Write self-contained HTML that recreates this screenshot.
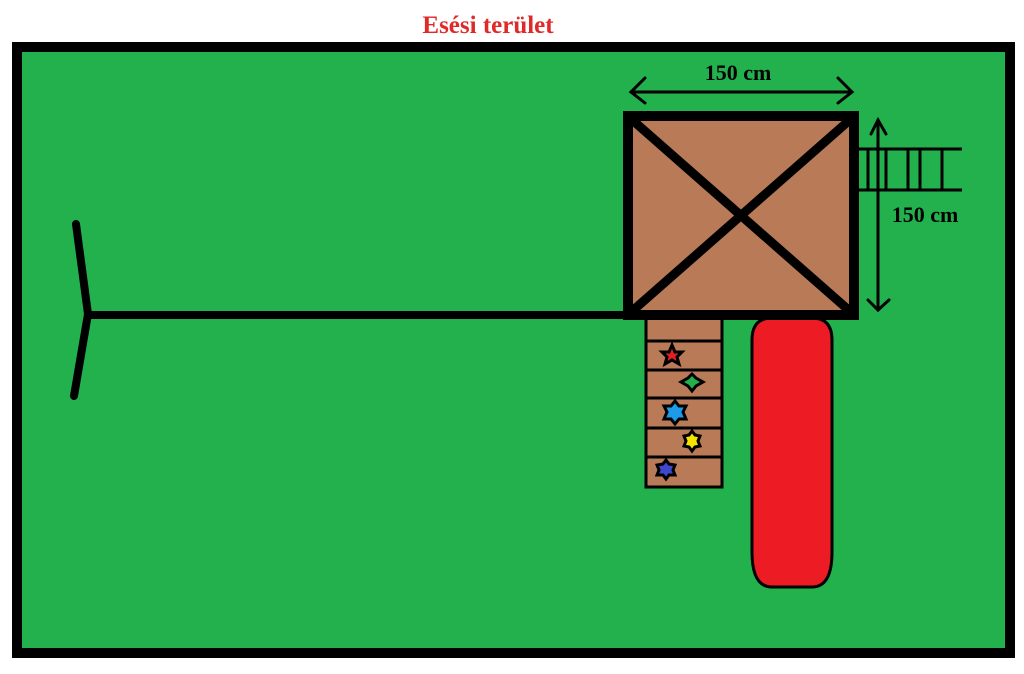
<!DOCTYPE html>
<html><head><style>body{margin:0;background:#fff}svg{display:block}</style></head>
<body>
<svg width="1024" height="674" viewBox="0 0 1024 674" xmlns="http://www.w3.org/2000/svg">
<rect width="1024" height="674" fill="#fff"/>
<text x="488" y="33" text-anchor="middle" font-family="Liberation Serif, serif" font-weight="bold" font-size="25" fill="#e02a2a">Esési terület</text>
<rect x="17" y="47" width="993" height="606" fill="#22b14c" stroke="#000" stroke-width="10"/>
<polyline points="76,224 88,314 74,396" fill="none" stroke="#000" stroke-width="8" stroke-linecap="round" stroke-linejoin="round"/>
<line x1="88" y1="315" x2="630" y2="315" stroke="#000" stroke-width="8"/>
<rect x="646" y="318" width="76" height="169" fill="#b97a57" stroke="#000" stroke-width="3"/>
<g stroke="#000" stroke-width="3">
<line x1="646" y1="341" x2="722" y2="341"/>
<line x1="646" y1="370" x2="722" y2="370"/>
<line x1="646" y1="398" x2="722" y2="398"/>
<line x1="646" y1="428" x2="722" y2="428"/>
<line x1="646" y1="457" x2="722" y2="457"/>
</g>
<g stroke="#000" stroke-width="3">
<polygon points="672,345 675,352 682,352 677,357 679,364 672,360 665,364 667,357 662,352 669,352" fill="#e02020"/>
<polygon points="692,374 696,378 703,382 696,386 692,391 688,386 681,382 688,378" fill="#22b14c"/>
<polygon points="675,401 679,406 686,406 683,412 686,419 679,419 675,424 671,419 664,419 667,412 664,406 671,406" fill="#1e9be8"/>
<polygon points="692,431 695,435 700,436 698,441 700,446 695,447 692,451 689,447 684,446 686,441 684,436 689,435" fill="#f5e400"/>
<polygon points="666,460 669,464 675,465 673,470 675,475 669,475 666,479 663,475 657,475 659,470 657,465 663,464" fill="#3f48cc"/>
</g>
<path d="M752,340 Q752,318 772,318 H812 Q832,318 832,340 V552 Q832,587 812,587 H772 Q752,587 752,552 Z" fill="#ed1c24" stroke="#000" stroke-width="3"/>
<rect x="628" y="116" width="226" height="199" fill="#b97a57" stroke="#000" stroke-width="10"/>
<line x1="630" y1="118" x2="852" y2="313" stroke="#000" stroke-width="9"/>
<line x1="852" y1="118" x2="630" y2="313" stroke="#000" stroke-width="9"/>
<g stroke="#000" stroke-width="3">
<line x1="857" y1="149" x2="962" y2="149"/>
<line x1="857" y1="190" x2="962" y2="190"/>
<line x1="868" y1="149" x2="868" y2="190"/>
<line x1="878" y1="149" x2="878" y2="190"/>
<line x1="886" y1="149" x2="886" y2="190"/>
<line x1="908" y1="149" x2="908" y2="190"/>
<line x1="920" y1="149" x2="920" y2="190"/>
<line x1="942" y1="149" x2="942" y2="190"/>
</g>
<g stroke="#000" stroke-width="3" fill="none" stroke-linecap="round">
<line x1="631" y1="92" x2="852" y2="92"/>
<polyline points="645,78 631,92 645,103"/>
<polyline points="838,78 852,92 838,103"/>
<line x1="878" y1="120" x2="878" y2="310"/>
<polyline points="871,134 878,120 886,134"/>
<polyline points="868,300 878,310 889,300"/>
</g>
<text x="738" y="80" text-anchor="middle" font-family="Liberation Serif, serif" font-weight="bold" font-size="22" fill="#000">150 cm</text>
<text x="925" y="222" text-anchor="middle" font-family="Liberation Serif, serif" font-weight="bold" font-size="22" fill="#000">150 cm</text>
</svg>
</body></html>
